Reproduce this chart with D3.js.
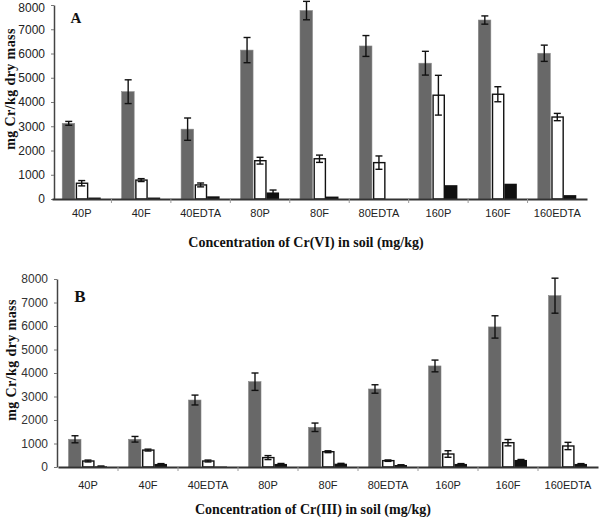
<!DOCTYPE html>
<html>
<head>
<meta charset="utf-8">
<script src="https://cdn.jsdelivr.net/npm/d3@7"></script>
<style>
  html, body { margin: 0; padding: 0; background: #fff; }
  svg { display: block; }
</style>
</head>
<body>
<svg id="chart" width="601" height="518"></svg>
<script>
// ---------- data ----------
const categories = ["40P", "40F", "40EDTA", "80P", "80F", "80EDTA", "160P", "160F", "160EDTA"];
const seriesKeys = ["gray", "white", "black"];
const yTickValues = [0, 1000, 2000, 3000, 4000, 5000, 6000, 7000, 8000];

// Panel A: Cr(VI)
const aGray      = [3120, 4425, 2880, 6140, 7770, 6310, 5600, 7380, 6010];
const aGrayErr   = [80, 490, 460, 520, 380, 430, 490, 170, 335];
const aWhite     = [650, 780, 580, 1580, 1660, 1500, 4280, 4320, 3380];
const aWhiteErr  = [110, 60, 80, 140, 150, 275, 820, 310, 150];
const aBlack     = [60, 60, 110, 270, 100, 0, 570, 630, 160];
const aBlackErr  = [0, 0, 0, 100, 0, 0, 0, 0, 0];

// Panel B: Cr(III)
const bGray      = [1180, 1180, 2850, 3630, 1690, 3320, 4300, 5960, 7290];
const bGrayErr   = [150, 120, 210, 370, 180, 180, 250, 475, 745];
const bWhite     = [255, 720, 255, 400, 650, 270, 553, 1035, 894];
const bWhiteErr  = [40, 40, 40, 85, 40, 30, 140, 135, 155];
const bBlack     = [30, 130, 20, 130, 140, 85, 130, 300, 130];
const bBlackErr  = [10, 15, 0, 20, 15, 10, 15, 20, 15];

const panels = [
  {
    letter: "A",
    xTitle: "Concentration of Cr(VI) in soil (mg/kg)",
    vals: { gray: aGray, white: aWhite, black: aBlack },
    errs: { gray: aGrayErr, white: aWhiteErr, black: aBlackErr },
    xRange: [52, 587], yRange: [199, 5], axisX: 54,
    letterPos: [76, 23], letterSize: 15,
    yTitlePos: [15, 89], xTitlePos: [306, 247], xLabelY: 217,
    tickColor: "#222"
  },
  {
    letter: "B",
    xTitle: "Concentration of Cr(III) in soil (mg/kg)",
    vals: { gray: bGray, white: bWhite, black: bBlack },
    errs: { gray: bGrayErr, white: bWhiteErr, black: bBlackErr },
    xRange: [58, 598], yRange: [467, 279], axisX: 57,
    letterPos: [80, 302], letterSize: 17,
    yTitlePos: [16, 360], xTitlePos: [313, 514], xLabelY: 489,
    tickColor: "#333"
  }
];

const fills = { gray: "#686868", white: "#ffffff", black: "#111111" };

const svg = d3.select("#chart");

panels.forEach(p => {
  const g = svg.append("g");
  const x0 = d3.scaleBand().domain(categories).range(p.xRange).padding(0);
  const groupW = 39;
  const x1 = d3.scaleBand().domain(seriesKeys).range([0, groupW]).padding(0);
  const y = d3.scaleLinear().domain([0, 8000]).range(p.yRange);
  const gx = c => x0(c) + (x0.bandwidth() - groupW) / 2;

  // bars
  seriesKeys.forEach(k => {
    const sel = g.append("g").selectAll("rect")
      .data(categories.map((c, i) => ({ c, v: p.vals[k][i], e: p.errs[k][i] })))
      .join("rect")
      .attr("x", d => gx(d.c) + x1(k) + (k === "white" ? 1.2 : 0))
      .attr("width", x1.bandwidth() - (k === "white" ? 1.8 : 0.5))
      .attr("y", d => y(d.v))
      .attr("height", d => Math.max(0, y(0) - y(d.v)))
      .attr("fill", fills[k]);
    if (k === "white") sel.attr("stroke", "#111").attr("stroke-width", 1.4);
    if (k === "gray") sel.attr("stroke", "#888").attr("stroke-width", 0.6);
  });

  // error bars
  seriesKeys.forEach(k => {
    const data = categories.map((c, i) => ({ c, v: p.vals[k][i], e: p.errs[k][i] }))
      .filter(d => d.e > 0 && d.v > 0);
    const eg = g.append("g").attr("stroke", "#111").attr("stroke-width", 1.4).attr("fill", "none");
    const cx = d => gx(d.c) + x1(k) + x1.bandwidth() / 2;
    eg.selectAll("line.v").data(data).join("line")
      .attr("x1", cx).attr("x2", cx)
      .attr("y1", d => y(d.v + d.e)).attr("y2", d => y(Math.max(0, d.v - d.e)));
    eg.selectAll("line.t").data(data).join("line")
      .attr("x1", d => cx(d) - 3.5).attr("x2", d => cx(d) + 3.5)
      .attr("y1", d => y(d.v + d.e)).attr("y2", d => y(d.v + d.e));
    eg.selectAll("line.b").data(data).join("line")
      .attr("x1", d => cx(d) - 3.5).attr("x2", d => cx(d) + 3.5)
      .attr("y1", d => y(Math.max(0, d.v - d.e))).attr("y2", d => y(Math.max(0, d.v - d.e)));
  });

  // y axis
  const yAxis = g.append("g")
    .attr("transform", `translate(${p.axisX},0)`)
    .call(d3.axisLeft(y).tickValues(yTickValues).tickFormat(d3.format("d"))
      .tickSize(3).tickSizeOuter(0).tickPadding(6));
  yAxis.select(".domain").attr("stroke", "#444").attr("stroke-width", 1.5);
  yAxis.selectAll(".tick line").attr("stroke", "#777");
  yAxis.selectAll("text").attr("font-family", "Liberation Sans, Arial, sans-serif")
    .attr("font-size", 12).attr("fill", p.tickColor);
  // keep the top label inside the picture
  yAxis.selectAll(".tick text").filter(d => y(d) < 8).attr("dy", "0.55em");

  // x axis
  const xAxis = g.append("g")
    .attr("transform", `translate(0,${y(0)})`)
    .call(d3.axisBottom(x0).tickSize(0).tickSizeOuter(0).tickPadding(0));
  xAxis.select(".domain").attr("stroke", "#333").attr("stroke-width", 1.8);
  xAxis.selectAll(".tick text")
    .attr("font-family", "Liberation Sans, Arial, sans-serif")
    .attr("font-size", 11).attr("fill", "#222")
    .attr("dy", null)
    .attr("y", p.xLabelY - y(0));
  // band boundary ticks
  xAxis.append("g").selectAll("line")
    .data(categories.slice(1))
    .join("line")
    .attr("x1", c => x0(c)).attr("x2", c => x0(c))
    .attr("y1", 0).attr("y2", 4)
    .attr("stroke", "#999").attr("stroke-width", 1);

  // panel letter
  g.append("text")
    .attr("x", p.letterPos[0]).attr("y", p.letterPos[1])
    .attr("text-anchor", "middle")
    .attr("font-family", "Liberation Serif, Times New Roman, serif")
    .attr("font-weight", "bold").attr("font-size", p.letterSize)
    .attr("fill", "#111")
    .text(p.letter);

  // y title
  g.append("text")
    .attr("transform", `translate(${p.yTitlePos[0]},${p.yTitlePos[1]}) rotate(-90)`)
    .attr("text-anchor", "middle")
    .attr("font-family", "Liberation Serif, Times New Roman, serif")
    .attr("font-weight", "bold").attr("font-size", 14)
    .attr("letter-spacing", 0.4)
    .attr("fill", "#111")
    .text("mg Cr/kg dry mass");

  // x title
  g.append("text")
    .attr("x", p.xTitlePos[0]).attr("y", p.xTitlePos[1])
    .attr("text-anchor", "middle")
    .attr("font-family", "Liberation Serif, Times New Roman, serif")
    .attr("font-weight", "bold").attr("font-size", 14)
    .attr("fill", "#111")
    .text(p.xTitle);
});
</script>
</body>
</html>
